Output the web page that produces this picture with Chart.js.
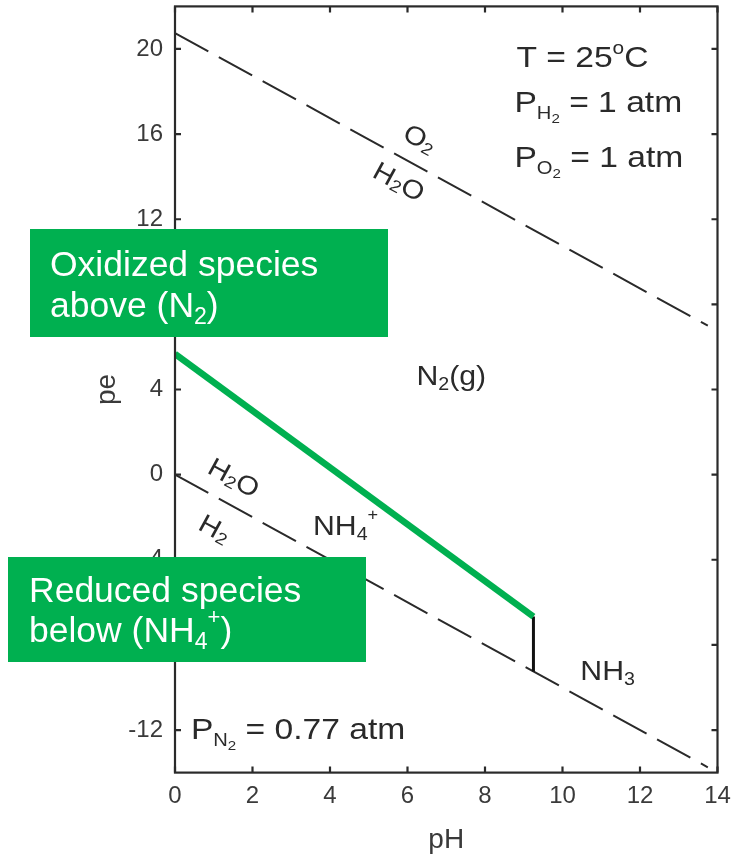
<!DOCTYPE html>
<html>
<head>
<meta charset="utf-8">
<style>
  html, body { margin: 0; padding: 0; background: #ffffff; }
  #wrap { width: 731px; height: 858px; position: relative; }
</style>
<script src="https://cdn.jsdelivr.net/npm/chart.js@4.4.1/dist/chart.umd.min.js"></script>
</head>
<body>
<div id="wrap"><canvas id="c" width="731" height="858"></canvas></div>
<script>
// Axis tick values
const xTicks = [0, 2, 4, 6, 8, 10, 12, 14];
const yTicks = [-12, -8, -4, 0, 4, 8, 12, 16, 20];

// Water stability limits (dashed)
const phWater = [0, 13.75];
const peO2H2O = [20.75, 7.0];
const peH2OH2 = [0, -13.75];

// N2(g) / NH4+ boundary
const phN2NH4 = [0, 9.25];
const peN2NH4 = [5.67, -6.67];

// NH4+ / NH3 boundary (pKa)
const phNH4NH3 = [9.25, 9.25];
const peNH4NH3 = [-6.67, -9.25];

const FONT = '"Liberation Sans", Arial, Helvetica, sans-serif';
const INK = '#2a2a2a';
const GREEN = '#00b050';
const WIDEN = 1.12; // labels inside the plot are set slightly wide

const pts = (xs, ys) => xs.map((x, i) => ({ x: x, y: ys[i] }));

// Text runs: [text, relative size, vertical shift in em (positive = down)]
const plotLabels = [
  { runs: [['T = 25', 1, 0], ['o', 0.62, -0.42], ['C', 1, 0]], ph: 8.81, pe: 19.15, size: 30 },
  { runs: [['P', 1, 0], ['H', 0.6, 0.24], ['2', 0.45, 0.36], [' = 1 atm', 1, 0]], ph: 8.76, pe: 17.03, size: 30 },
  { runs: [['P', 1, 0], ['O', 0.6, 0.24], ['2', 0.45, 0.36], [' = 1 atm', 1, 0]], ph: 8.76, pe: 14.45, size: 30 },
  { runs: [['P', 1, 0], ['N', 0.6, 0.24], ['2', 0.45, 0.36], [' = 0.77 atm', 1, 0]], ph: 0.41, pe: -12.43, size: 30 },
  { runs: [['N', 1, 0], ['2', 0.65, 0.2], ['(g)', 1, 0]], ph: 6.23, pe: 4.21, size: 27 },
  { runs: [['NH', 1, 0], ['4', 0.65, 0.2], ['+', 0.6, -0.55]], ph: 3.56, pe: -2.84, size: 27 },
  { runs: [['NH', 1, 0], ['3', 0.65, 0.2]], ph: 10.46, pe: -9.65, size: 27 },
  { runs: [['O', 1, 0], ['2', 0.65, 0.2]], ph: 6.3, pe: 15.72, size: 26, rotate: true },
  { runs: [['H', 1, 0], ['2', 0.65, 0.2], ['O', 1, 0]], ph: 5.76, pe: 13.7, size: 26, rotate: true },
  { runs: [['H', 1, 0], ['2', 0.65, 0.2], ['O', 1, 0]], ph: 1.5, pe: -0.21, size: 26, rotate: true },
  { runs: [['H', 1, 0], ['2', 0.65, 0.2]], ph: 1.01, pe: -2.6, size: 26, rotate: true }
];

// Green callout boxes (canvas pixels)
const callouts = [
  { box: [30, 229, 358, 108], left: 50, lines: [
      { base: 276, runs: [['Oxidized species', 1, 0]] },
      { base: 317, runs: [['above (N', 1, 0], ['2', 0.65, 0.2], [')', 1, 0]] }
    ] },
  { box: [8, 557, 358, 105], left: 29, lines: [
      { base: 602, runs: [['Reduced species', 1, 0]] },
      { base: 642, runs: [['below (NH', 1, 0], ['4', 0.65, 0.2], ['+', 0.62, -0.5], [')', 1, 0]] }
    ] }
];

function runsWidth(ctx, runs, size) {
  let w = 0;
  runs.forEach(r => { ctx.font = (size * r[1]) + 'px ' + FONT; w += ctx.measureText(r[0]).width; });
  return w;
}
function drawRuns(ctx, runs, x, y, size) {
  let cx = x;
  runs.forEach(r => {
    ctx.font = (size * r[1]) + 'px ' + FONT;
    ctx.fillText(r[0], cx, y + r[2] * size);
    cx += ctx.measureText(r[0]).width;
  });
}

const zeroPad = s => { s.paddingTop = 0; s.paddingBottom = 0; s.paddingLeft = 0; s.paddingRight = 0; };

const frameAndTicks = {
  id: 'frameAndTicks',
  afterDatasetsDraw(chart) {
    const { ctx, chartArea: a, scales: { x, y } } = chart;
    ctx.save();
    ctx.strokeStyle = INK;
    ctx.lineWidth = 2.2;
    ctx.strokeRect(a.left, a.top, a.right - a.left, a.bottom - a.top);
    const tl = 6;
    ctx.beginPath();
    x.ticks.forEach(t => {
      const px = x.getPixelForValue(t.value);
      ctx.moveTo(px, a.bottom); ctx.lineTo(px, a.bottom - tl);
      ctx.moveTo(px, a.top); ctx.lineTo(px, a.top + tl);
    });
    y.ticks.forEach(t => {
      const py = y.getPixelForValue(t.value);
      ctx.moveTo(a.left, py); ctx.lineTo(a.left + tl, py);
      ctx.moveTo(a.right, py); ctx.lineTo(a.right - tl, py);
    });
    ctx.stroke();

    // species and condition labels
    const ang = Math.atan2(
      y.getPixelForValue(peH2OH2[1]) - y.getPixelForValue(peH2OH2[0]),
      x.getPixelForValue(phWater[1]) - x.getPixelForValue(phWater[0]));
    ctx.fillStyle = INK;
    plotLabels.forEach(l => {
      const px = x.getPixelForValue(l.ph), py = y.getPixelForValue(l.pe);
      ctx.save();
      ctx.translate(px, py);
      ctx.textAlign = 'left';
      if (l.rotate) {
        ctx.rotate(ang);
        ctx.scale(WIDEN, 1);
        ctx.textBaseline = 'middle';
        drawRuns(ctx, l.runs, -runsWidth(ctx, l.runs, l.size) / 2, 0, l.size);
      } else {
        ctx.scale(WIDEN, 1);
        ctx.textBaseline = 'alphabetic';
        drawRuns(ctx, l.runs, 0, 0, l.size);
      }
      ctx.restore();
    });
    ctx.restore();
  },
  afterDraw(chart) {
    const ctx = chart.ctx;
    ctx.save();
    callouts.forEach(c => {
      ctx.fillStyle = GREEN;
      ctx.fillRect(c.box[0], c.box[1], c.box[2], c.box[3]);
      ctx.fillStyle = '#ffffff';
      ctx.textBaseline = 'alphabetic';
      ctx.textAlign = 'left';
      c.lines.forEach(ln => drawRuns(ctx, ln.runs, c.left, ln.base, 35.5));
    });
    ctx.restore();
  }
};

new Chart(document.getElementById('c'), {
  type: 'line',
  data: {
    datasets: [
      { data: pts(phN2NH4, peN2NH4), borderColor: GREEN, borderWidth: 6.5, order: 0 },
      { data: pts(phNH4NH3, peNH4NH3), borderColor: '#111111', borderWidth: 3, order: 1 },
      { data: pts(phWater, peO2H2O), borderColor: INK, borderWidth: 2, borderDash: [38, 12], order: 2 },
      { data: pts(phWater, peH2OH2), borderColor: INK, borderWidth: 2, borderDash: [38, 12], order: 3 }
    ]
  },
  options: {
    responsive: false,
    animation: false,
    events: [],
    layout: { padding: { left: 0, right: 13.5, top: 6.4, bottom: 0 } },
    elements: { point: { radius: 0 }, line: { tension: 0, borderCapStyle: 'butt' } },
    plugins: { legend: { display: false }, tooltip: { enabled: false } },
    scales: {
      x: {
        type: 'linear', min: 0, max: 14,
        afterBuildTicks: s => { s.ticks = xTicks.map(v => ({ value: v })); },
        afterFit: s => { s.height = 85.4; zeroPad(s); },
        grid: { display: false, drawTicks: false },
        border: { display: false },
        ticks: { padding: 9, color: '#3a3a3a', font: { family: FONT, size: 24 } },
        title: { display: true, text: 'pH', color: '#3a3a3a', padding: 1, font: { family: FONT, size: 28 } }
      },
      y: {
        type: 'linear', min: -14, max: 22,
        afterBuildTicks: s => { s.ticks = yTicks.map(v => ({ value: v })); },
        afterFit: s => { s.width = 175; zeroPad(s); },
        grid: { display: false, drawTicks: false },
        border: { display: false },
        ticks: { padding: 12, color: '#3a3a3a', font: { family: FONT, size: 24 } },
        title: { display: true, text: 'pe', color: '#3a3a3a', padding: 90, font: { family: FONT, size: 28 } }
      }
    }
  },
  plugins: [frameAndTicks]
});
</script>
</body>
</html>
